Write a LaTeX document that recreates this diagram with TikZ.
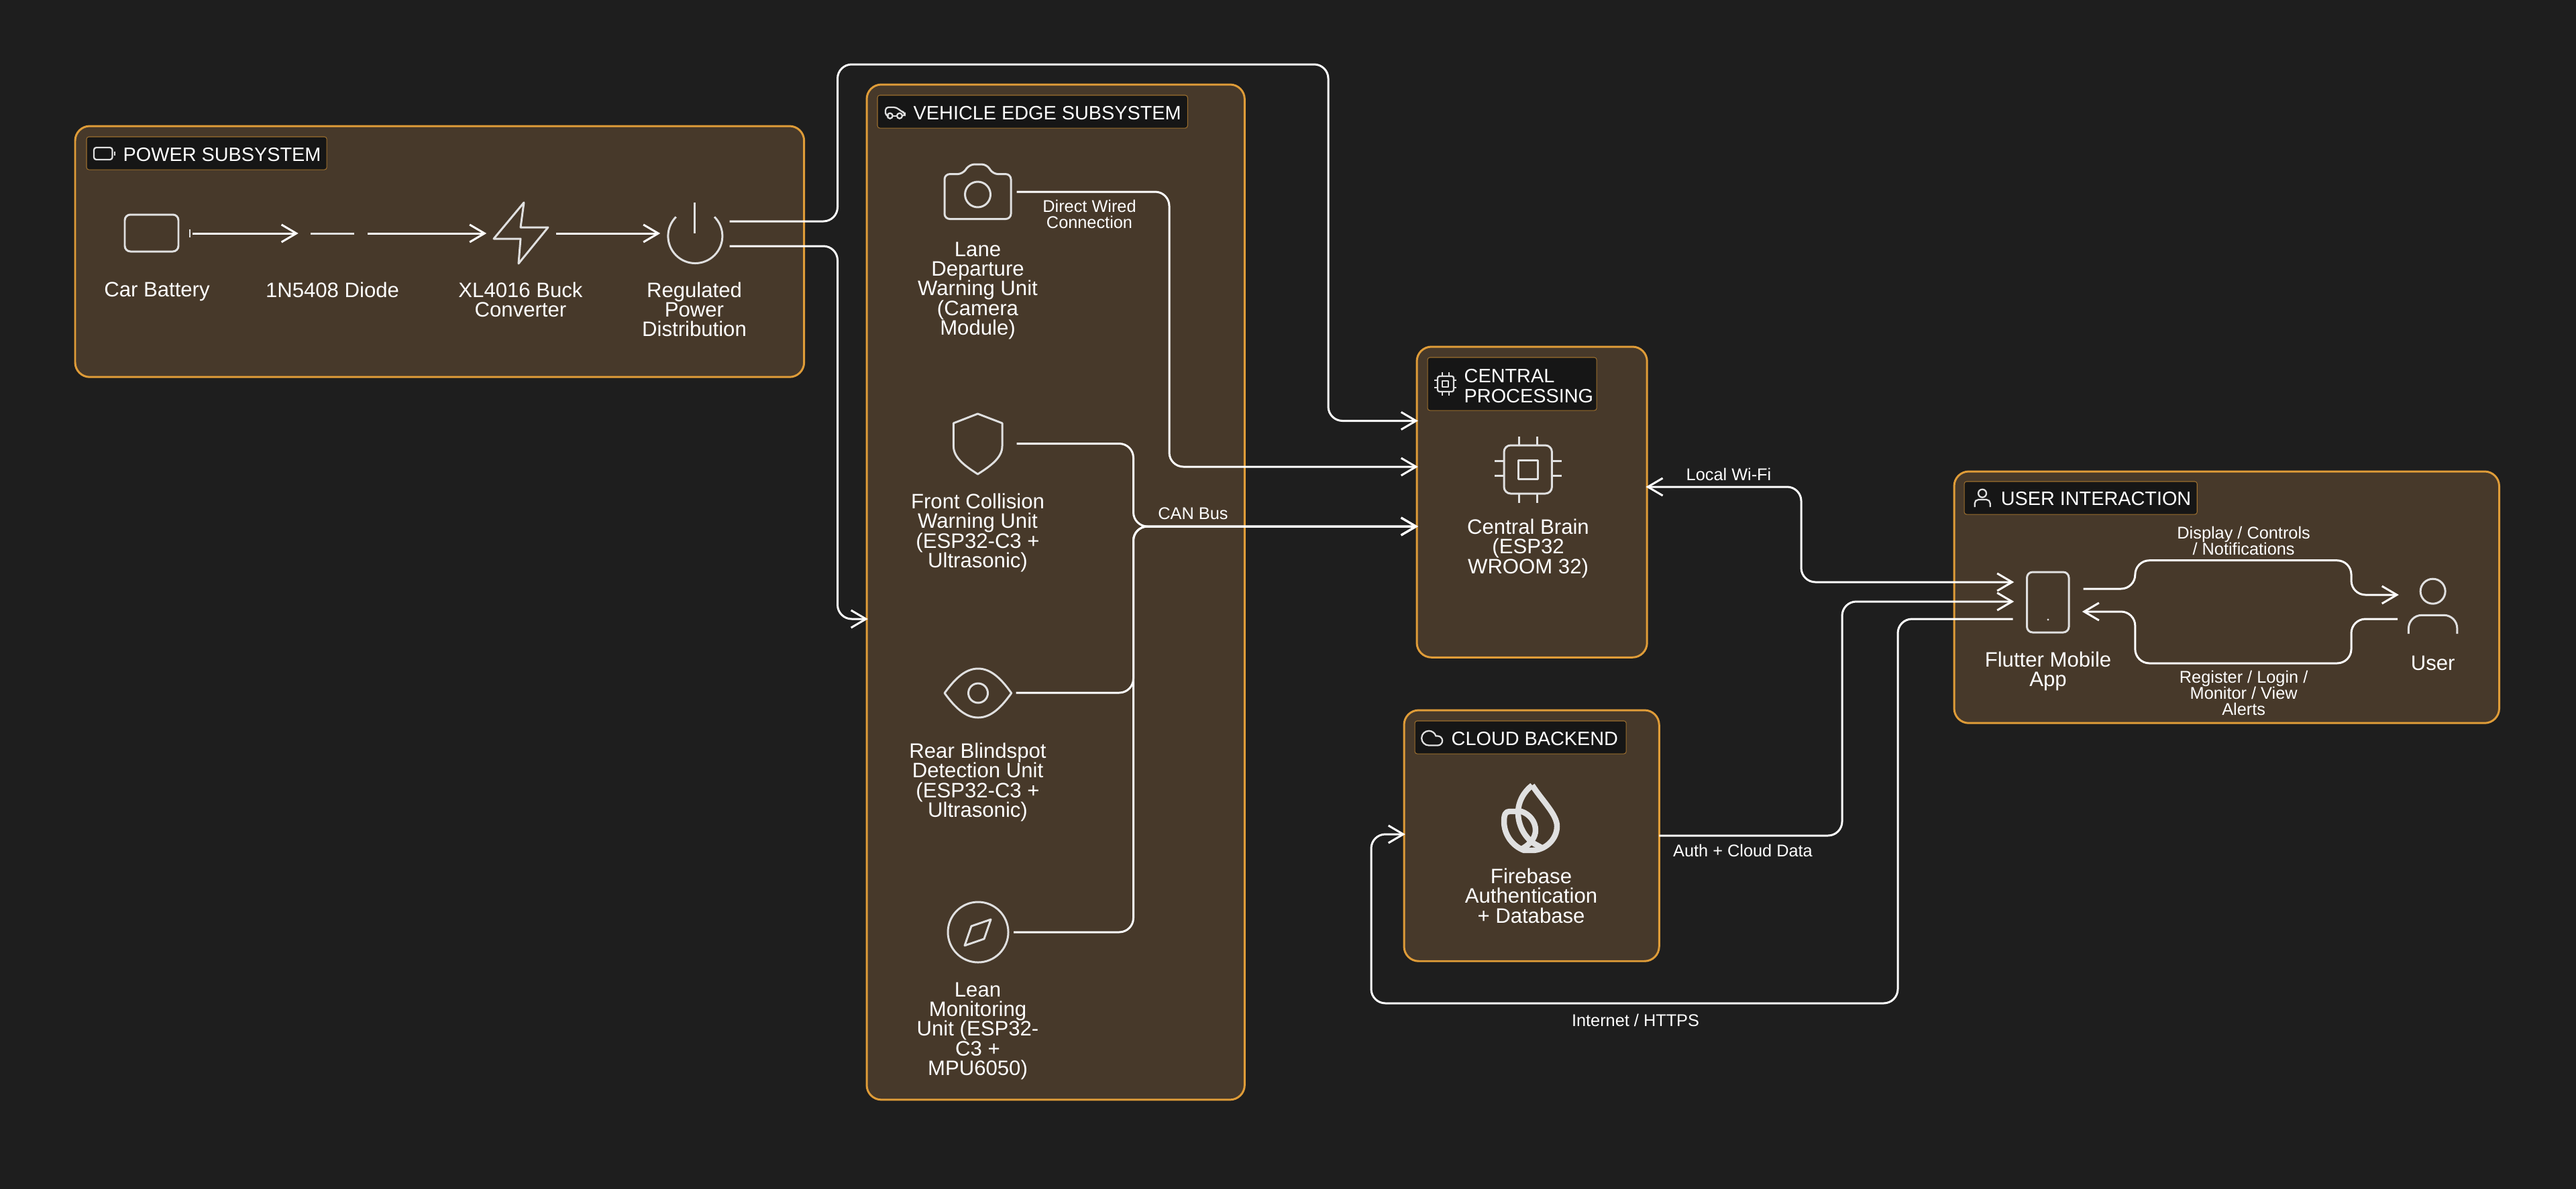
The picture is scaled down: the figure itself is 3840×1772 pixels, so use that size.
\documentclass[tikz,border=0pt]{standalone}
\usepackage{fontspec}
\setmainfont{Liberation Sans}
\usetikzlibrary{arrows.meta}

\definecolor{canvas}{HTML}{1E1E1E}
\definecolor{panelfill}{HTML}{47392A}
\definecolor{paneledge}{HTML}{DF9C38}
\definecolor{tagfill}{HTML}{161616}
\definecolor{tagedge}{HTML}{9C6F2E}
\definecolor{iconline}{HTML}{E0E0E0}

\tikzset{
  panel/.style={draw=paneledge, fill=panelfill, line width=0.85pt, rounded corners=6.2pt,
    anchor=north west, inner sep=0pt, outer sep=0pt},
  tagbox/.style={draw=tagedge, fill=tagfill, line width=0.3pt, rounded corners=1pt,
    anchor=north west, inner sep=0pt, outer sep=0pt},
  tagtext/.style={text=white, anchor=north west, align=left, inner sep=0pt,
    font=\fontsize{8.2}{8.3}\selectfont},
  label/.style={text=white, anchor=north, align=center, inner sep=0pt,
    font=\fontsize{8.85}{8.35}\selectfont},
  wirelabel/.style={text=white, anchor=north, align=center, inner sep=0pt,
    font=\fontsize{7.2}{6.85}\selectfont},
  port/.style={minimum width=1.05cm, minimum height=0.5cm, inner sep=0pt, outer sep=0pt},
  icon/.style={draw=iconline, line width=0.85pt, line join=round},
  smallicon/.style={draw=iconline, line width=0.65pt, line join=round},
  wire/.style={draw=white, line width=0.85pt, rounded corners=6pt},
  tip/.style={-{Straight Barb[length=6.3pt, width=7.4pt]}, shorten >=-0.5pt},
  bothtip/.style={{Straight Barb[length=6.3pt, width=7.4pt]}-{Straight Barb[length=6.3pt, width=7.4pt]},
    shorten >=-0.5pt, shorten <=-0.5pt},
}

\begin{document}
\begin{tikzpicture}[x=0.01cm, y=-0.01cm]
  \useasboundingbox (0,0) rectangle (3840,1772);
  \fill[canvas] (-20,-20) rectangle (3860,1792);

  % panels
  \node[panel, minimum width=10.86cm, minimum height=3.74cm] (powerbox) at (112,188) {};
  \node[panel, minimum width=5.63cm, minimum height=15.13cm] (vehiclebox) at (1292,126) {};
  \node[panel, minimum width=3.43cm, minimum height=4.63cm] (centralbox) at (2112,517) {};
  \node[panel, minimum width=3.80cm, minimum height=3.74cm] (cloudbox) at (2093,1059) {};
  \node[panel, minimum width=8.12cm, minimum height=3.75cm] (userbox) at (2913,703) {};

  % title tags
  \node[tagbox, minimum width=3.58cm, minimum height=0.49cm] (powertag) at (129,204) {};
  \node[tagbox, minimum width=4.62cm, minimum height=0.49cm] (vehicletag) at (1308,142) {};
  \node[tagbox, minimum width=2.52cm, minimum height=0.79cm] (centraltag) at (2128,533) {};
  \node[tagbox, minimum width=3.15cm, minimum height=0.49cm] (cloudtag) at (2109,1075) {};
  \node[tagbox, minimum width=3.47cm, minimum height=0.49cm] (usertag) at (2928,718) {};
  \node[tagtext] (powertitle) at (183,220) {POWER SUBSYSTEM};
  \node[tagtext] (vehicletitle) at (1361,158) {VEHICLE EDGE SUBSYSTEM};
  \node[tagtext] (centraltitle) at (2182,550) {CENTRAL\\PROCESSING};
  \node[tagtext] (cloudtitle) at (2163,1091) {CLOUD BACKEND};
  \node[tagtext] (usertitle) at (2982,733) {USER INTERACTION};

  % tag icons
  \draw[smallicon, rounded corners=1pt] (140,220) rectangle (167.5,238);
  \draw[smallicon] (171,226) -- (171,232);

  \draw[smallicon, rounded corners=1.2pt] (1322.5,172.7) -- (1320,172.7) -- (1320,160) -- (1336.7,160) -- (1343,166) -- (1349,168) -- (1349,172.7) -- (1345,172.7);
  \draw[smallicon] (1330.5,172.7) -- (1337.5,172.7);
  \draw[smallicon] (1326.7,172.7) circle (4);
  \draw[smallicon] (1341,172.7) circle (4);

  \draw[smallicon, rounded corners=0.8pt] (2143,561) rectangle (2167,584);
  \draw[smallicon] (2150,568) rectangle (2159,577);
  \draw[smallicon] (2150,555) -- (2150,561);
  \draw[smallicon] (2160,555) -- (2160,561);
  \draw[smallicon] (2150,584) -- (2150,590);
  \draw[smallicon] (2160,584) -- (2160,590);
  \draw[smallicon] (2138,567) -- (2143,567);
  \draw[smallicon] (2138,578) -- (2143,578);
  \draw[smallicon] (2167,567) -- (2171,567);
  \draw[smallicon] (2167,578) -- (2171,578);

  \draw[smallicon] (2143.1,1111.5) -- (2130,1111.5) arc (90:343.4:10.85) -- (2143.1,1097.5) arc (270:450:7);

  \draw[smallicon] (2955,735.7) circle (6);
  \draw[smallicon, rounded corners=1.6pt] (2943.6,756) -- (2943.6,745) -- (2966.7,745) -- (2966.7,756);

  % power icons
  \node[port] (battery) at (234.5,348) {};
  \node[port] (diode) at (495.5,348) {};
  \node[port] (buck) at (776,348) {};
  \node[port] (supply) at (1035,348) {};
  \draw[icon, rounded corners=2.4pt] (186,320) rectangle (266,375);
  \draw[icon] (283,342) -- (283,354);
  \draw[icon] (463,348) -- (528,348);
  \draw[icon] (781,302) -- (736,356) -- (776,356) -- (773,393) -- (817,339) -- (776,339) -- cycle;
  \draw[icon] (1035,302) -- (1035,348);
  \draw[icon] (1065,323.4) arc (-45:225:40.5);

  % vehicle icons
  \node[port, minimum width=1.16cm] (camera) at (1457.5,286) {};
  \node[port, minimum width=1.16cm] (shield) at (1457.5,661.5) {};
  \node[port, minimum width=1.14cm] (eye) at (1457.5,1033) {};
  \node[port, minimum width=1.07cm] (compass) at (1457.5,1390) {};
  \draw[icon, rounded corners=2.2pt] (1435,259.6) -- (1445,245) -- (1471,245) -- (1480,259.6) -- (1507,259.6) -- (1507,326.5) -- (1408,326.5) -- (1408,259.6) -- cycle;
  \draw[icon] (1457.5,290) circle (19);
  \draw[icon] (1457.5,617) -- (1494,631) -- (1494,665) .. controls (1494,682) and (1478,694) .. (1457.5,707) .. controls (1437,694) and (1421.4,682) .. (1421.4,665) -- (1421.4,631) -- cycle;
  \draw[icon] (1408,1033.5) .. controls (1425,1010) and (1440,997) .. (1458,997) .. controls (1476,997) and (1491,1010) .. (1507.7,1033.5) .. controls (1491,1057) and (1476,1070) .. (1458,1070) .. controls (1440,1070) and (1425,1057) .. cycle;
  \draw[icon] (1458,1033.5) circle (14.5);
  \draw[icon] (1458,1390) circle (45);
  \draw[icon] (1477,1371) -- (1467,1400) -- (1438,1410) -- (1448,1381) -- cycle;

  % central and cloud icons
  \draw[icon, rounded corners=2.8pt] (2242,664) rectangle (2313.4,736);
  \draw[icon] (2263,686) rectangle (2292,714);
  \draw[icon] (2264,651) -- (2264,664);
  \draw[icon] (2291,651) -- (2291,664);
  \draw[icon] (2264,736) -- (2264,750);
  \draw[icon] (2291,736) -- (2291,750);
  \draw[icon] (2228,687) -- (2242,687);
  \draw[icon] (2228,709) -- (2242,709);
  \draw[icon] (2313.4,687) -- (2328,687);
  \draw[icon] (2313.4,709) -- (2328,709);

  \draw[icon, line width=2.4pt] (2284,1171) .. controls (2300,1195) and (2321,1215) .. (2321,1232) .. controls (2321,1252) and (2303,1268) .. (2284,1268) -- (2272,1268) .. controls (2255,1262) and (2242,1245) .. (2242,1225) .. controls (2242,1215) and (2244,1210) .. (2250,1210) -- (2268,1210) .. controls (2280,1214) and (2289,1225) .. (2289,1238) .. controls (2289,1248) and (2282,1258) .. (2270,1265);
  \draw[icon, line width=2.4pt] (2284,1171) .. controls (2272,1180) and (2263,1195) .. (2263,1212) .. controls (2263,1230) and (2272,1248) .. (2287,1258) -- (2300,1265);

  % user icons
  \node[port] (phone) at (3053,898) {};
  \node[port] (person) at (3626.6,905) {};
  \draw[icon, rounded corners=2.4pt] (3021.5,853) rectangle (3084,943);
  \fill[iconline] (3053,924) circle (1.6);
  \draw[icon] (3626.6,881.7) circle (18.5);
  \draw[icon, rounded corners=5.6pt] (3590.4,945) -- (3590.4,917.3) -- (3662.8,917.3) -- (3662.8,945);

  % node labels
  \node[label] (lblbattery) at (234,420) {Car Battery};
  \node[label] (lbldiode) at (495.5,420) {1N5408 Diode};
  \node[label] (lblbuck) at (776,420) {XL4016 Buck\\Converter};
  \node[label] (lblsupply) at (1035,420) {Regulated\\Power\\Distribution};
  \node[label] (lblcamera) at (1457.5,360) {Lane\\Departure\\Warning Unit\\(Camera\\Module)};
  \node[label] (lblshield) at (1457.5,735) {Front Collision\\Warning Unit\\(ESP32-C3 +\\Ultrasonic)};
  \node[label] (lbleye) at (1457.5,1107) {Rear Blindspot\\Detection Unit\\(ESP32-C3 +\\Ultrasonic)};
  \node[label] (lblcompass) at (1457.5,1464) {Lean\\Monitoring\\Unit (ESP32-\\C3 +\\MPU6050)};
  \node[label] (lblcentral) at (2278,773) {Central Brain\\(ESP32\\WROOM 32)};
  \node[label] (lblcloud) at (2282.5,1294) {Firebase\\Authentication\\+ Database};
  \node[label] (lblphone) at (3053,971) {Flutter Mobile\\App};
  \node[label] (lblperson) at (3626.6,977) {User};

  % connectors
  \draw[wire, tip] (battery) -- (diode);
  \draw[wire, tip] (diode) -- (buck);
  \draw[wire, tip] (buck) -- (supply);
  \draw[wire, tip] (supply.east |- 0,330) -| (1248.5,96) -| (1980,627.5) -- (centralbox.west |- 0,627.5);
  \draw[wire, tip] (supply.east |- 0,367) -| (1248.5,923) -- (vehiclebox.west |- 0,923);
  \draw[wire, tip] (camera.east) -| (1743,696) -- (centralbox.west |- 0,696);
  \draw[wire, tip] (shield.east) -| (1689.5,785) -- (centralbox.west |- 0,785);
  \draw[wire, tip] (eye.east) -| (1689.5,785) -- (centralbox.west |- 0,785);
  \draw[wire, tip] (compass.east) -| (1689.5,785) -- (centralbox.west |- 0,785);
  \draw[wire, bothtip] (centralbox.east |- 0,726) -| (2685,868) -- (phone.west |- 0,868);
  \draw[wire, tip] (cloudbox.east |- 0,1246) -| (2746,897) -- (phone.west |- 0,897);
  \draw[wire, tip] (phone.west |- 0,923) -| (2829,1496) -| (2044,1244) -- (cloudbox.west |- 0,1244);
  \draw[wire, tip] (phone.east |- 0,878) -| (3182.8,835.7) -| (3505,887) -- (person.west |- 0,887);
  \draw[wire, tip] (person.west |- 0,923) -| (3505,989) -| (3182.8,912) -- (phone.east |- 0,912);

  % connector labels
  \node[wirelabel] (lblwired) at (1624,297) {Direct Wired\\Connection};
  \node[wirelabel] (lblcan) at (1778.5,756) {CAN Bus};
  \node[wirelabel] (lblwifi) at (2577,697) {Local Wi-Fi};
  \node[wirelabel] (lblauth) at (2598,1258) {Auth + Cloud Data};
  \node[wirelabel] (lblhttps) at (2438,1511) {Internet / HTTPS};
  \node[wirelabel] (lbldisplay) at (3344.6,784) {Display / Controls\\/ Notifications};
  \node[wirelabel] (lblregister) at (3344.6,999) {Register / Login /\\Monitor / View\\Alerts};
\end{tikzpicture}
\end{document}
